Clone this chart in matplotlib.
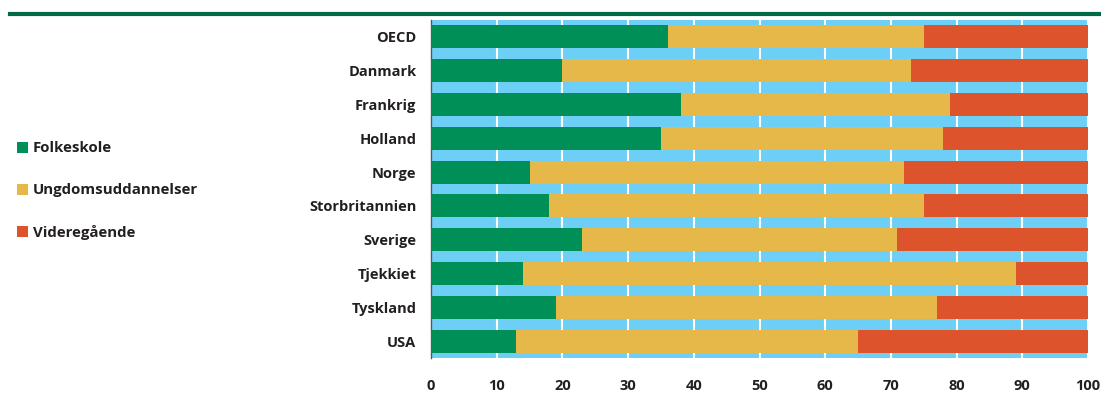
import numpy as np
import matplotlib
matplotlib.use("Agg")
import matplotlib.pyplot as plt
from matplotlib.patches import Patch
from matplotlib.lines import Line2D

# andel af befolkningen efter hoejeste uddannelse (pct.)
lande = ['OECD', 'Danmark', 'Frankrig', 'Holland', 'Norge', 'Storbritannien',
         'Sverige', 'Tjekkiet', 'Tyskland', 'USA']
folkeskole = [36, 20, 38, 35, 15, 18, 23, 14, 19, 13]
ungdom = [39, 53, 41, 43, 57, 57, 48, 75, 58, 52]
videregaaende = [25, 27, 21, 22, 28, 25, 29, 11, 23, 35]
serier = ['Folkeskole', 'Ungdomsuddannelser', 'Videregående']
farver = ['#009057', '#E6B84A', '#DC532C']

plt.rcParams['font.family'] = ['Open Sans', 'DejaVu Sans']

fig = plt.figure(figsize=(11.01, 4.12), dpi=100)
ax = fig.add_axes([431/1101, 54/412, (1088-431)/1101, (358-20)/412])

y = np.arange(len(lande))
venstre = np.zeros(len(lande))
for vals, farve, navn in zip([folkeskole, ungdom, videregaaende], farver, serier):
    ax.barh(y, vals, left=venstre, height=0.68, color=farve, label=navn, zorder=3)
    venstre += np.array(vals)

ax.set_facecolor('#6DCFF6')
ax.set_xlim(0, 100)
ax.set_ylim(len(lande) - 0.5, -0.5)
ax.set_xticks(np.arange(0, 101, 10))
ax.set_yticks(y)
ax.set_yticklabels(lande)
ax.grid(axis='x', color='white', linewidth=1.5, zorder=1)
ax.tick_params(length=0, labelsize=10.5, colors='#231F20', pad=10.5)
ax.tick_params(axis='x', pad=15)
for lab in ax.get_xticklabels() + ax.get_yticklabels():
    lab.set_fontweight('bold')
for side in ['top', 'right', 'bottom']:
    ax.spines[side].set_visible(False)
ax.spines['left'].set_color('#555555')
ax.spines['left'].set_linewidth(1)

# groen linje i toppen
fig.add_artist(Line2D([10/1101, 1.0], [1 - 14/412, 1 - 14/412], color='#006A44',
                      linewidth=3, transform=fig.transFigure))

handles = [Patch(facecolor=f, edgecolor='none', label=n) for f, n in zip(farver, serier)]
leg = fig.legend(handles=handles, loc='upper left', bbox_to_anchor=(3/1101, 1 - 128/412),
                 frameon=False, handlelength=0.75, handleheight=0.75, handletextpad=0.35,
                 labelspacing=1.85, fontsize=10.8)
for t in leg.get_texts():
    t.set_fontweight('bold')
    t.set_color('#231F20')

fig.savefig('out.png', dpi=100)
